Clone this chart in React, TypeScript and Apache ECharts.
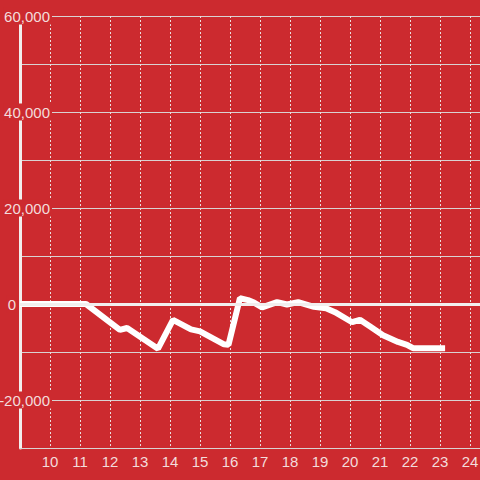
import React, { useEffect, useRef } from "react";
import * as echarts from "echarts";

const hours: number[] = [
  9, 11.2, 12.33, 12.57, 13.6, 14.1, 14.7, 15.0, 15.8, 15.95, 16.33, 16.6, 16.8,
  17.07, 17.57, 17.9, 18.27, 18.8, 19.2, 19.5, 20.07, 20.33, 20.67, 21.1, 21.6,
  21.9, 22.1, 23.17,
];
const values: number[] = [
  0, 0, -5400, -5000, -9300, -3300, -5300, -5700, -8400, -8500, 1200, 800, 300,
  -700, 400, -100, 400, -600, -900, -1700, -3800, -3300, -4700, -6500, -7900,
  -8500, -9200, -9200,
];

const BG = "#cc2a2f";
const TEXT = "#f3dcdc";
const FONT = "Liberation Sans, Arial, sans-serif";

export default function App() {
  const ref = useRef<HTMLDivElement>(null);
  useEffect(() => {
    if (!ref.current) return;
    const chart = echarts.init(ref.current, undefined, { renderer: "svg" });
    const data = hours.map((h, i) => [h, values[i]]);
    const yBase = { type: "value", min: -30000, max: 60000, interval: 10000, position: "left", offset: 0 };
    chart.setOption({
      animation: false,
      backgroundColor: BG,
      grid: { left: 20, right: 0, top: 16, bottom: 32, containLabel: false, outerBoundsMode: "none" },
      xAxis: {
        type: "value",
        min: 9,
        max: 24.333,
        interval: 1,
        axisLine: { show: true, onZero: false, lineStyle: { color: "#d9d2d2", width: 1 } },
        axisTick: { show: false },
        axisLabel: {
          color: TEXT,
          fontSize: 15,
          fontFamily: FONT,
          margin: 6,
          showMaxLabel: false,
          formatter: (v: number) => (Number.isInteger(v) && v >= 10 && v <= 24 ? String(v) : ""),
        },
        splitLine: { show: true, lineStyle: { color: "#eadede", width: 1, type: [2, 2] } },
      },
      yAxis: [
        {
          ...yBase,
          axisLine: { show: true, onZero: false, lineStyle: { color: "#f2eeee", width: 3 } },
          axisTick: { show: false },
          axisLabel: { show: false },
          splitLine: { show: true, lineStyle: { color: "#d9d2d2", width: 1 } },
        },
        {
          ...yBase,
          z: 10,
          axisLine: { show: false, onZero: false },
          axisTick: { show: false },
          splitLine: { show: false },
          axisLabel: {
            color: TEXT,
            fontSize: 15,
            fontFamily: FONT,
            margin: -32,
            formatter: (v: number) => {
              if (v % 20000 !== 0) return "";
              if (v === 0) return "{a|0}{s|}";
              return "{a|" + v.toLocaleString("en-US") + "}";
            },
            rich: {
              a: { color: TEXT, fontSize: 15, fontFamily: FONT, backgroundColor: BG, padding: [1, 2, 1, 1] },
              s: { width: 34 },
            },
          },
        },
      ],
      series: [
        {
          type: "line",
          yAxisIndex: 0,
          data,
          symbol: "none",
          lineStyle: { color: "#ffffff", width: 6 },
          markLine: {
            silent: true,
            symbol: ["none", "none"],
            label: { show: false },
            lineStyle: { color: "#f2eeee", width: 3, type: "solid" },
            data: [{ yAxis: 0 }],
          },
          z: 3,
        },
      ],
    });
    return () => chart.dispose();
  }, []);
  return (
    <div
      ref={ref}
      style={{ position: "fixed", left: 0, top: 0, width: 480, height: 480 }}
    />
  );
}
